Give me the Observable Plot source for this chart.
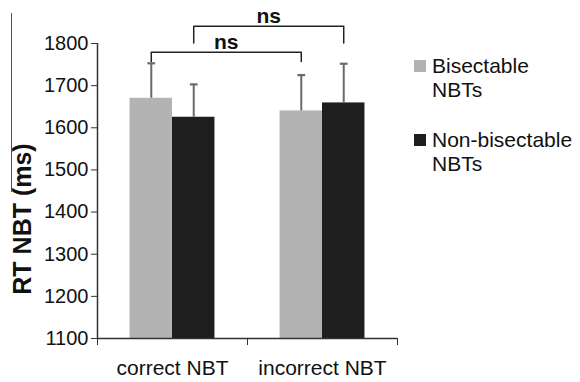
<!DOCTYPE html>
<html><head><meta charset="utf-8">
<script src="https://cdn.jsdelivr.net/npm/d3@7"></script>
<script src="https://cdn.jsdelivr.net/npm/@observablehq/plot@0.6"></script>
<style>
body{margin:0;background:#fff;font-family:"Liberation Sans",Arial,sans-serif;}
#wrap{position:relative;width:580px;height:382px;overflow:hidden;}
#wrap svg{position:absolute;left:0;top:0;}
#edge{position:absolute;left:11px;top:13px;height:179px;border-left:1.5px solid #555;}
#legend{position:absolute;left:414px;top:54px;font-size:21px;line-height:23.5px;color:#111;}
.item{display:flex;align-items:flex-start;margin-bottom:27px;}
.sw{width:12px;height:12px;margin-top:6px;margin-right:6px;flex:none;}
</style>
</head><body>
<div id="wrap"><div id="edge"></div></div>
<script>
// ---- data ----
const categories = ["correct NBT", "incorrect NBT"];
const seriesNames = ["Bisectable NBTs", "Non-bisectable NBTs"];
const bisectableMean = [1670, 1640];
const bisectableErr = [83, 85];
const nonBisectableMean = [1625, 1659];
const nonBisectableErr = [78, 93];
const yTicks = [1100, 1200, 1300, 1400, 1500, 1600, 1700, 1800];
const comparisonSeries = [0, 1];
const comparisonLevel = [1779, 1841];
const comparisonLegEnd = [1757, 1801];
const comparisonLabel = ["ns", "ns"];

// ---- styles ----
const colors = ["#b3b3b3", "#1e1e1e"];
const BW = 0.283;   // bar width as fraction of category band
const CAP = 0.026;  // error cap half width
const font = "Liberation Sans, Arial, sans-serif";

const means = [bisectableMean, nonBisectableMean];
const errs = [bisectableErr, nonBisectableErr];
const rows = [];
categories.forEach((c, i) => seriesNames.forEach((s, k) => {
  const x1 = i + 0.5 + (k - 1) * BW;
  rows.push({cat: c, series: k, mean: means[k][i], top: means[k][i] + errs[k][i], x1, x2: x1 + BW, xc: x1 + BW / 2});
}));
const center = (k, i) => i + 0.5 + (k - 1) * BW + BW / 2;

const brackets = comparisonSeries.map((k, j) => ({
  id: j, label: comparisonLabel[j], level: comparisonLevel[j],
  xl: center(k, 0), xr: center(k, 1), legEnd: comparisonLegEnd[j]
}));
const bracketPts = brackets.flatMap(b => [
  {id: b.id, x: b.xl, y: b.legEnd}, {id: b.id, x: b.xl, y: b.level},
  {id: b.id, x: b.xr, y: b.level}, {id: b.id, x: b.xr, y: b.legEnd}
]);

const chart = Plot.plot({
  width: 580, height: 382,
  marginLeft: 97, marginRight: 183, marginTop: 43, marginBottom: 44,
  style: {fontFamily: font, color: "#222", background: "transparent"},
  x: {domain: [0, categories.length]},
  y: {domain: [yTicks[0], yTicks[yTicks.length - 1]]},
  marks: [
    ...seriesNames.map((s, k) => Plot.rectY(rows.filter(d => d.series === k), {
      x1: "x1", x2: "x2", y1: yTicks[0], y2: "mean", fill: colors[k]
    })),
    Plot.ruleX(rows, {x: "xc", y1: "mean", y2: "top", stroke: "#6a6a6a", strokeWidth: 2}),
    Plot.link(rows, {x1: d => d.xc - CAP, x2: d => d.xc + CAP, y1: "top", y2: "top", stroke: "#6a6a6a", strokeWidth: 2.2}),
    Plot.line(bracketPts, {x: "x", y: "y", z: "id", stroke: "#222", strokeWidth: 1.5}),
    Plot.text(brackets, {x: d => (d.xl + d.xr) / 2, y: "level", text: "label", lineAnchor: "bottom", dy: -3.5, fontSize: 21, fontWeight: "bold", fill: "#111"}),
    Plot.axisY({ticks: yTicks, tickSize: 6, tickPadding: 3, tickFormat: d3.format("d"), fontSize: 20, label: null, stroke: "#333", fill: "#111"}),
    Plot.ruleX([0], {y1: yTicks[0], y2: yTicks[yTicks.length - 1], stroke: "#333", strokeWidth: 1.5}),
    Plot.ruleY([yTicks[0]], {stroke: "#333", strokeWidth: 1.5}),
    Plot.axisX({ticks: d3.range(categories.length + 1), tickSize: 7, tickFormat: () => "", label: null, stroke: "#333"}),
    Plot.axisX({ticks: categories.map((c, i) => i + 0.5), tickSize: 0, tickPadding: 22, tickFormat: v => categories[Math.floor(v)], fontSize: 21, label: null, fill: "#111"}),
    Plot.text(["RT NBT (ms)"], {frameAnchor: "left", rotate: -90, dx: -75, dy: 28, fontSize: 25, fontWeight: "bold", textAnchor: "middle", lineAnchor: "middle", fill: "#111"})
  ]
});
const wrap = document.getElementById("wrap");
wrap.insertBefore(chart, wrap.firstChild);

const legend = document.createElement("div");
legend.id = "legend";
seriesNames.forEach((s, k) => {
  const item = document.createElement("div");
  item.className = "item";
  const sw = document.createElement("div");
  sw.className = "sw";
  sw.style.background = colors[k];
  const t = document.createElement("div");
  const parts = s.split(" ");
  t.innerHTML = parts[0] + "<br>" + parts.slice(1).join(" ");
  item.appendChild(sw); item.appendChild(t);
  legend.appendChild(item);
});
wrap.appendChild(legend);
</script>
</body></html>
